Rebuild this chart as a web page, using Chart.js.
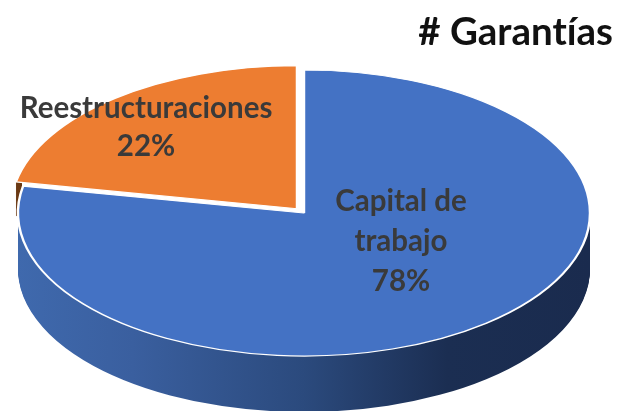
<!DOCTYPE html>
<html>
<head>
<meta charset="utf-8">
<style>html,body{margin:0;padding:0;background:#fff;overflow:hidden}canvas{display:block}</style>
<script src="https://cdn.jsdelivr.net/npm/chart.js@4"></script>
</head>
<body>
<canvas id="c" width="620" height="411"></canvas>
<script>
const titleText = "# Garantías";
const categories = ["Capital de trabajo", "Reestructuraciones"];
const values = [78, 22];
const sliceColors = ["#4472C4", "#ED7D31"];
const sliceOffsets = [0, 25];
const labelLines = [["Capital de", "trabajo"], ["Reestructuraciones"]];

const CX = 304, CY = 213, RX = 286, RY = 143, DEPTH = 56;

function applyTilt(ctx, el) {
  const R = el.outerRadius;
  ctx.translate(CX, CY);
  ctx.scale(RX / R, RY / R);
  ctx.translate(-el.x, -el.y);
}
function drawWith(el, ctx, fill) {
  const saved = el.options;
  el.options = {
    backgroundColor: fill, borderColor: fill, borderWidth: 0, borderAlign: "center",
    offset: saved.offset, spacing: 0, circular: true, borderRadius: 0,
    borderJoinStyle: "round", borderDash: [], borderDashOffset: 0
  };
  el.draw(ctx);
  el.options = saved;
}
const tiltPlugin = {
  id: "tilt",
  beforeDraw(chart) {
    chart.ctx.textRendering = "optimizeSpeed";
  },
  beforeDatasetsDraw(chart) {
    const ctx = chart.ctx, arcs = chart.getDatasetMeta(0).data, el = arcs[0];
    // side wall of the orange slice: only a sliver shows at the far left
    ctx.save();
    ctx.beginPath(); ctx.rect(0, 180, 22, 60); ctx.clip();
    for (let d = 34; d >= 1; d--) {
      ctx.save(); ctx.translate(0, d); applyTilt(ctx, el);
      drawWith(arcs[1], ctx, "#6b3a14");
      ctx.restore();
    }
    ctx.restore();
    // side wall of the blue slice
    for (let d = DEPTH; d >= 1; d--) {
      ctx.save(); ctx.translate(0, d); applyTilt(ctx, el);
      const R = el.outerRadius, g = ctx.createLinearGradient(el.x - R, 0, el.x + R, 0);
      g.addColorStop(0, "#3f69ad");
      g.addColorStop(0.2, "#3a5f9f");
      g.addColorStop(0.5, "#2b4a7d");
      g.addColorStop(0.75, "#1b2e52");
      g.addColorStop(1, "#1a2b4e");
      drawWith(arcs[0], ctx, g);
      ctx.restore();
    }
    ctx.save();
    applyTilt(ctx, el);
  },
  afterDatasetsDraw(chart) {
    const ctx = chart.ctx;
    ctx.restore();
    const meta = chart.getDatasetMeta(0);
    ctx.save();
    ctx.fillStyle = "#3a3a3a";
    ctx.font = "bold 29.5px Lato";
    ctx.textAlign = "center";
    ctx.textBaseline = "alphabetic";
    const spots = [{x: 401, y: 211, lh: 40}, {x: 146, y: 118, lh: 38}];
    meta.data.forEach((_, i) => {
      const lines = labelLines[i].concat(values[i] + "%"), s = spots[i];
      lines.forEach((t, k) => ctx.fillText(t, s.x, s.y + k * s.lh));
    });
    ctx.restore();
  }
};

new Chart(document.getElementById("c"), {
  type: "pie",
  data: {
    labels: categories,
    datasets: [{
      data: values,
      backgroundColor: sliceColors,
      borderColor: "#ffffff",
      borderWidth: 1.4,
      offset: sliceOffsets,
      hoverOffset: 0
    }]
  },
  options: {
    responsive: false,
    animation: false,
    layout: {padding: {right: 7, top: 0, left: 0, bottom: 0}},
    events: [],
    plugins: {
      legend: {display: false},
      tooltip: {enabled: false},
      title: {
        display: true,
        text: titleText,
        align: "end",
        color: "#111111",
        font: {family: "Lato", weight: "bold", size: 38.5},
        padding: {top: 9, bottom: 4}
      }
    }
  },
  plugins: [tiltPlugin]
});
</script>
</body>
</html>
